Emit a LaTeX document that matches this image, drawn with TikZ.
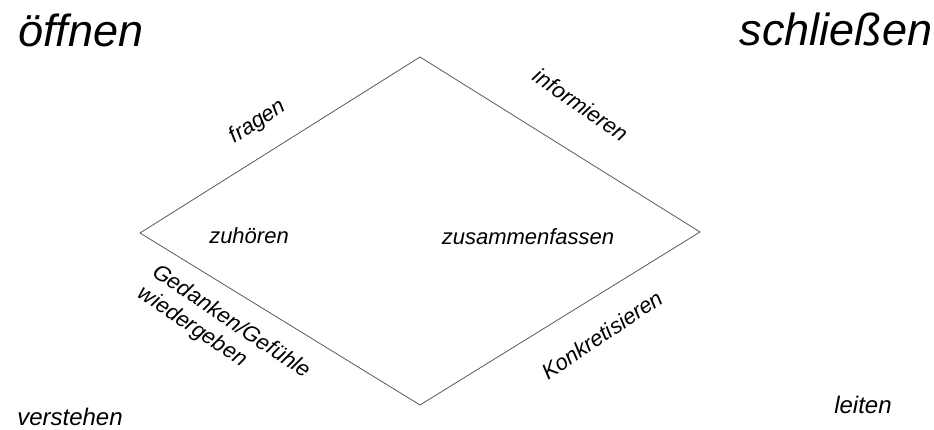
\documentclass[tikz,border=0pt]{standalone}
\usepackage{fontspec}
\setmainfont{Liberation Sans}
\begin{document}
\begin{tikzpicture}[x=1pt,y=-1pt,
	big/.style={inner sep=0pt,font=\fontsize{45}{50}\selectfont\itshape},
	small/.style={inner sep=0pt,font=\fontsize{24}{27}\selectfont\itshape},
	edge/.style={inner sep=0pt,font=\fontsize{22}{26}\selectfont\itshape}]
	\useasboundingbox (0,0) rectangle (934,430);
	% Raute
	\coordinate (top) at (420,57);
	\coordinate (left) at (140,233);
	\coordinate (right) at (700,232);
	\coordinate (bottom) at (420,405);
	\draw[gray!70!black,line width=0.8pt] (top) -- (right) -- (bottom) -- (left) -- cycle;
	% Ecken
	\node[big] (oeffnen) at (81,30) {öffnen};
	\node[big] (schliessen) at (836,30) {schließen};
	\node[small] (verstehen) at (70,417) {verstehen};
	\node[small] (leiten) at (863,405) {leiten};
	% innen
	\node[edge] (zuhoeren) at (249,236) {zuhören};
	\node[edge] (zusammen) at (528,237) {zusammenfassen};
	% an den Kanten
	\node[edge,rotate=33] (fragen) at (258,122) {fragen};
	\node[edge,rotate=-35] (informieren) at (581,105) {informieren};
	\node[edge,rotate=-34,align=left] (gedanken) at (224,333) {Gedanken/Gefühle\\wiedergeben};
	\node[edge,rotate=34] (konkret) at (602,335) {Konkretisieren};
\end{tikzpicture}
\end{document}
